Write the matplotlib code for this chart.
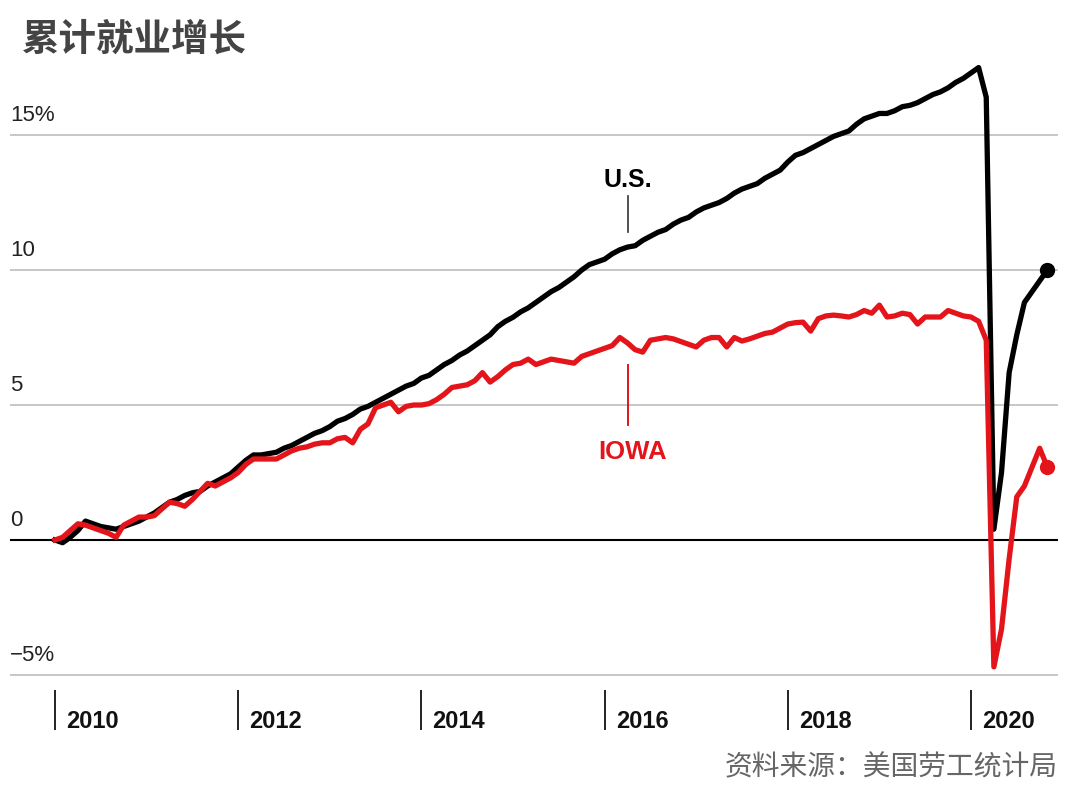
import matplotlib
matplotlib.use("Agg")
import matplotlib.pyplot as plt
import matplotlib.transforms as mtransforms

# monthly cumulative job growth since Jan 2010, in percent (Jan 2010 .. Nov 2020)
start_year = 2010
us_growth = [
    0.0, -0.1, 0.1, 0.35, 0.7, 0.6, 0.5, 0.45, 0.4, 0.5, 0.6, 0.7,
    0.85, 1.0, 1.2, 1.4, 1.5, 1.65, 1.75, 1.8, 2.0, 2.15, 2.3, 2.45,
    2.7, 2.95, 3.15, 3.15, 3.2, 3.25, 3.4, 3.5, 3.65, 3.8, 3.95, 4.05,
    4.2, 4.4, 4.5, 4.65, 4.85, 4.95, 5.1, 5.25, 5.4, 5.55, 5.7, 5.8,
    6.0, 6.1, 6.3, 6.5, 6.65, 6.85, 7.0, 7.2, 7.4, 7.6, 7.9, 8.1,
    8.25, 8.45, 8.6, 8.8, 9.0, 9.2, 9.35, 9.55, 9.75, 10.0, 10.2, 10.3,
    10.4, 10.6, 10.75, 10.85, 10.9, 11.1, 11.25, 11.4, 11.5, 11.7, 11.85, 11.95,
    12.15, 12.3, 12.4, 12.5, 12.65, 12.85, 13.0, 13.1, 13.2, 13.4, 13.55, 13.7,
    14.0, 14.25, 14.35, 14.5, 14.65, 14.8, 14.95, 15.05, 15.15, 15.4, 15.6, 15.7,
    15.8, 15.8, 15.9, 16.05, 16.1, 16.2, 16.35, 16.5, 16.6, 16.75, 16.95, 17.1,
    17.3, 17.5, 16.4, 0.4, 2.5, 6.2, 7.6, 8.8, 9.2, 9.6, 10.0,
]
iowa_growth = [
    0.0, 0.1, 0.35, 0.6, 0.55, 0.45, 0.35, 0.25, 0.1, 0.55, 0.7, 0.85,
    0.85, 0.9, 1.15, 1.4, 1.35, 1.25, 1.5, 1.8, 2.1, 2.0, 2.15, 2.3,
    2.5, 2.8, 3.0, 3.0, 3.0, 3.0, 3.15, 3.3, 3.4, 3.45, 3.55, 3.6,
    3.6, 3.75, 3.8, 3.6, 4.1, 4.3, 4.9, 5.0, 5.1, 4.75, 4.95, 5.0,
    5.0, 5.05, 5.2, 5.4, 5.65, 5.7, 5.75, 5.9, 6.2, 5.85, 6.05, 6.3,
    6.5, 6.55, 6.7, 6.5, 6.6, 6.7, 6.65, 6.6, 6.55, 6.8, 6.9, 7.0,
    7.1, 7.2, 7.5, 7.3, 7.05, 6.96, 7.4, 7.45, 7.5, 7.45, 7.35, 7.25,
    7.15, 7.4, 7.5, 7.5, 7.15, 7.5, 7.37, 7.45, 7.55, 7.65, 7.7, 7.85,
    8.0, 8.05, 8.07, 7.74, 8.2, 8.3, 8.33, 8.3, 8.26, 8.35, 8.5, 8.4,
    8.7, 8.26, 8.3, 8.4, 8.35, 8.0, 8.26, 8.26, 8.26, 8.5, 8.4, 8.3,
    8.26, 8.1, 7.4, -4.7, -3.3, -0.7, 1.6, 2.0, 2.7, 3.4, 2.7,
]
months = [start_year + i / 12 for i in range(len(us_growth))]

grid_values = [15, 10, 5, -5]
y_labels = {15: "15%", 10: "10", 5: "5", 0: "0", -5: "−5%"}
year_ticks = [2010, 2012, 2014, 2016, 2018, 2020]

title = "累计就业增长"
source = "资料来源：美国劳工统计局"

red = "#e3151b"
latin = ["Liberation Sans", "DejaVu Sans"]
cjk = ["Noto Sans CJK SC", "DejaVu Sans"]

fig = plt.figure(figsize=(10.8, 8), dpi=100)
ax = fig.add_axes([10 / 1080, 110 / 800, 1048 / 1080, 630 / 800])
ax.set_xlim(2009.509, 2020.95)
ax.set_ylim(-5.556, 17.78)

for v in grid_values:
    ax.axhline(v, color="#bdbdbd", lw=1.2, zorder=1)
ax.axhline(0, color="black", lw=1.5, zorder=1)

ax.plot(months, us_growth, color="black", lw=3.8, solid_joinstyle="round", zorder=3)
ax.plot(months, iowa_growth, color=red, lw=3.8, solid_joinstyle="round", zorder=4)
ax.plot(months[-1], us_growth[-1], "o", color="black", ms=10, zorder=5)
ax.plot(months[-1], iowa_growth[-1], "o", color=red, ms=10, zorder=5)

# y labels sit above their grid lines at the left edge
blend = mtransforms.blended_transform_factory(ax.transAxes, ax.transData)
for v, lab in y_labels.items():
    ax.text(0.0, v + 0.33, lab, transform=blend, ha="left", va="bottom",
            fontsize=16, family=latin, color="#222222")

# year ticks below the plot, label to the right of each tick
for spine in ax.spines.values():
    spine.set_visible(False)
ax.set_yticks([])
ax.set_xticks(year_ticks)
ax.set_xticklabels([])
ax.tick_params(axis="x", direction="out", length=29, width=1.4, color="#222222", pad=0)
for yr in year_ticks:
    ax.annotate(str(yr), xy=(yr, 0), xycoords=("data", "axes fraction"),
                xytext=(8, -27.5), textcoords="offset points", ha="left", va="baseline",
                fontsize=17, fontweight="bold", family=latin, color="#111111",
                annotation_clip=False)

# series labels with leader lines
label_x = 2016.255
ax.text(label_x, 13.07, "U.S.", ha="center", va="baseline", fontsize=18,
        fontweight="bold", family=latin, color="black")
ax.plot([label_x, label_x], [12.74, 11.41], color="#333333", lw=1.2)
ax.text(label_x + 0.05, 3.0, "IOWA", ha="center", va="baseline", fontsize=18.5,
        fontweight="bold", family=latin, color=red)
ax.plot([label_x, label_x], [6.48, 4.26], color=red, lw=1.4)

fig.text(22 / 1080, 1 - 39 / 800, title, ha="left", va="center", fontsize=27,
         fontweight="bold", family=cjk, color="#444444")
fig.text(1058 / 1080, 1 - 767 / 800, source, ha="right", va="center", fontsize=20,
         family=cjk, color="#666666")

fig.savefig("out.png", dpi=100)
